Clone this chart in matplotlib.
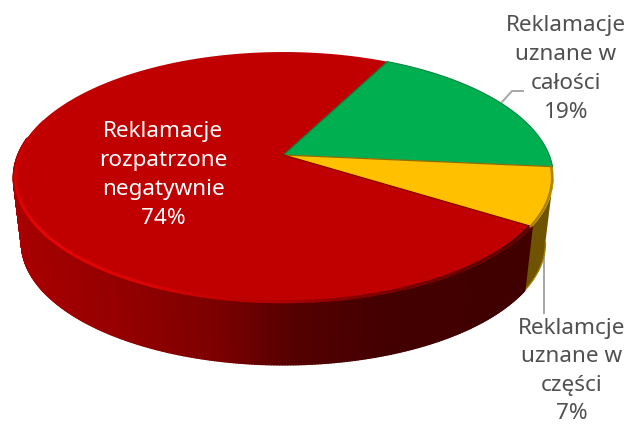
import numpy as np
import matplotlib
matplotlib.use('Agg')
import matplotlib.pyplot as plt
from matplotlib.collections import PolyCollection, LineCollection
from matplotlib.colors import LinearSegmentedColormap

labels = ['Reklamacje\nuznane w\ncałości\n19%', 'Reklamcje\nuznane w\nczęści\n7%', 'Reklamacje\nrozpatrzone\nnegatywnie\n74%']
values = [19.0, 7.45, 73.55]
colors = ['#00B050', '#FFC000', '#C00000']
edges = ['#0b7f3f', '#8f6c00', '#8a0000']
start = 27.0

# pie drawn with a perspective squash, centre is the apex of the slices
cx, cy = 283.5, 155.0
A, B, k = 265.6, 121.5, 0.18
depth, shrink = 66.0, 0.97


def project(theta, r=1.0, low=False):
    t = np.radians(theta)
    u = r * np.sin(t)
    v = r * np.cos(t)
    d = 1 + k * v
    x = A * u / d
    y = -B * v / d
    if low:
        return cx + shrink * x, cy + depth + shrink * y
    return cx + x, cy + y


fig = plt.figure(figsize=(6.3, 4.24), dpi=100)
ax = fig.add_axes([0, 0, 1, 1])
ax.set_xlim(0, 630)
ax.set_ylim(424, 0)
ax.axis('off')
plt.rcParams['font.family'] = ['Noto Sans', 'DejaVu Sans']

bounds = start + np.cumsum([0] + values) * 3.6

# side wall, only the front part can be seen
wall_red = LinearSegmentedColormap.from_list('wall', [(0, '#a80000'), (0.2, '#950000'), (0.4, '#7c0000'),
                                                      (0.55, '#560000'), (0.72, '#440000'), (1, '#400000')])
polys = []
cols = []
for th in np.arange(bounds[2], 278, 0.5):
    x1, y1 = project(th)
    x2, y2 = project(th + 0.5)
    x3, y3 = project(th + 0.5, low=True)
    x4, y4 = project(th, low=True)
    polys.append([(x1, y1), (x2, y2), (x3, y3), (x4, y4)])
    cols.append(wall_red((x1 - 13) / 510))
ax.add_collection(PolyCollection(polys, facecolors=cols, edgecolors=cols, linewidths=1.2, zorder=1))
ys = np.arange(100, bounds[2] + 0.5, 0.5)
x1, y1 = project(ys)
x2, y2 = project(ys, low=True)
ax.fill(np.r_[x1, x2[::-1]], np.r_[y1, y2[::-1]], color='#6e5300', lw=0, zorder=0.5)
# lighter edge at the bottom of the yellow wall
ax.plot(x2, y2, color='#a07c00', lw=1.0, zorder=0.6)

# top face
for i in range(3):
    th = np.linspace(bounds[i], bounds[i + 1], 200)
    x, y = project(th)
    ax.fill(np.r_[cx, x], np.r_[cy, y], color=colors[i], lw=0, zorder=2)
for i in range(3):
    x, y = project(bounds[i])
    ax.plot([cx, x], [cy, y], color=edges[i], lw=0.9, zorder=3)

# bevel round the rim
bevel = LinearSegmentedColormap.from_list('bevel', [(0, '#4c0000'), (0.25, '#7c0000'), (0.38, '#b80000'),
                                                    (0.5, '#dc0404'), (0.68, '#e80606'), (0.86, '#d40000'),
                                                    (1, '#c00000')])
th = np.arange(bounds[2], 288, 1.0)
x, y = project(th, 0.992)
segs = [[(x[i], y[i]), (x[i + 1], y[i + 1])] for i in range(len(th) - 1)]
ax.add_collection(LineCollection(segs, colors=[bevel((a - bounds[2]) / (288 - bounds[2])) for a in th[:-1]],
                                 linewidths=2.2, zorder=4))
th = np.linspace(bounds[1], bounds[2], 40)
x, y = project(th, 0.995)
ax.plot(x, y, color='#a88200', lw=1.8, zorder=4)
th = np.linspace(bounds[0], bounds[1], 100)
x, y = project(th, 1.0)
ax.plot(x, y, color='#0b8a45', lw=0.9, zorder=4)

# leader lines
ax.plot([502, 512, 523], [102, 91, 91], color='#a6a6a6', lw=1.4, zorder=5)
ax.plot([544, 544], [255, 313], color='#a6a6a6', lw=1.4, zorder=0.2)

fs = 16.2
ax.text(566, 69, labels[0], color='#505050', fontsize=fs, ha='center', va='center', linespacing=1.5, zorder=6)
ax.text(572, 371, labels[1], color='#505050', fontsize=fs, ha='center', va='center', linespacing=1.45, zorder=6)
ax.text(163, 175, labels[2], color='white', fontsize=fs, ha='center', va='center', linespacing=1.5, zorder=6)

fig.savefig('out.png', dpi=100)
